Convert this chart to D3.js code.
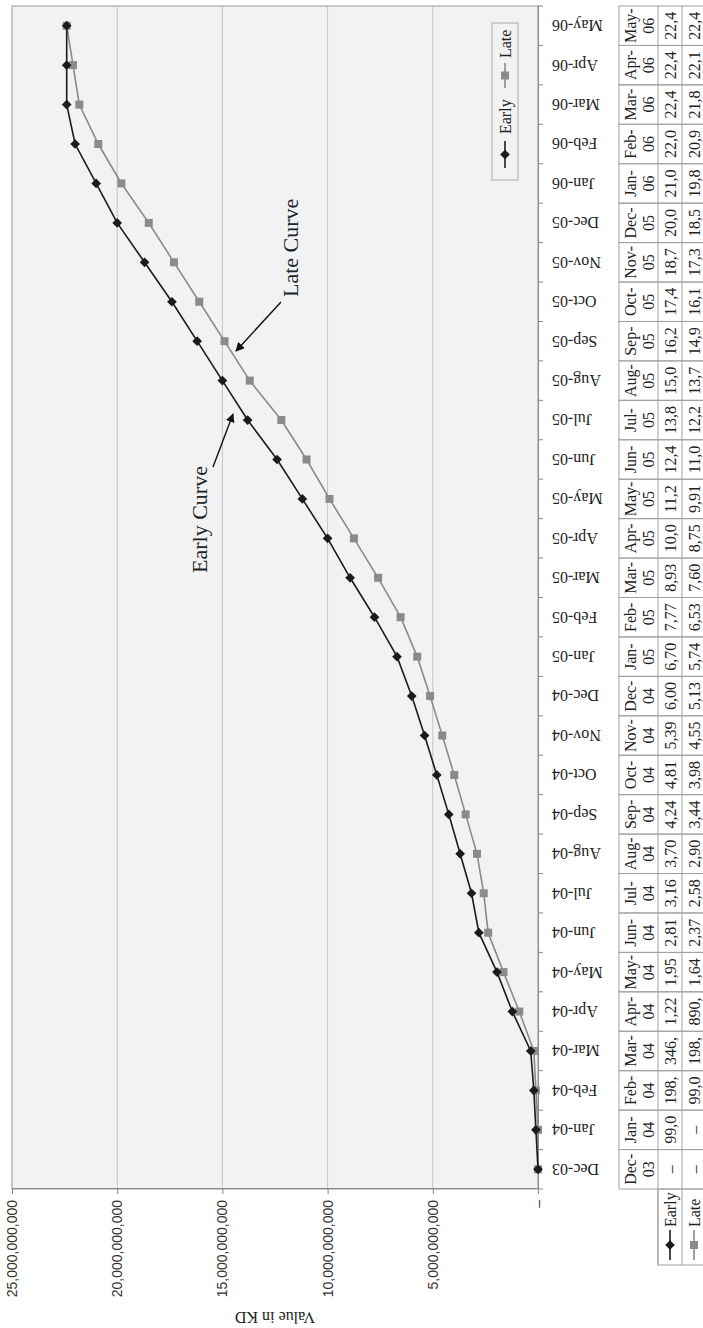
<!DOCTYPE html>
<html><head><meta charset="utf-8">
<script src="https://cdn.jsdelivr.net/npm/d3@7"></script>
<style>body{margin:0;background:#fff}svg{display:block}</style>
</head><body>
<svg id="c" width="703" height="1328"></svg>
<script>
const categories = ["Dec-03","Jan-04","Feb-04","Mar-04","Apr-04","May-04","Jun-04","Jul-04","Aug-04","Sep-04","Oct-04","Nov-04","Dec-04","Jan-05","Feb-05","Mar-05","Apr-05","May-05","Jun-05","Jul-05","Aug-05","Sep-05","Oct-05","Nov-05","Dec-05","Jan-06","Feb-06","Mar-06","Apr-06","May-06"];
const early = [0,99e6,198e6,346e6,1.22e9,1.95e9,2.81e9,3.16e9,3.70e9,4.24e9,4.81e9,5.39e9,6.00e9,6.70e9,7.77e9,8.93e9,10.0e9,11.2e9,12.4e9,13.8e9,15.0e9,16.2e9,17.4e9,18.7e9,20.0e9,21.0e9,22.0e9,22.4e9,22.4e9,22.4e9];
const late = [0,0,99e6,198e6,890e6,1.64e9,2.37e9,2.58e9,2.90e9,3.44e9,3.98e9,4.55e9,5.13e9,5.74e9,6.53e9,7.60e9,8.75e9,9.91e9,11.0e9,12.2e9,13.7e9,14.9e9,16.1e9,17.3e9,18.5e9,19.8e9,20.9e9,21.8e9,22.1e9,22.4e9];
const valueTicks = [0,5e9,10e9,15e9,20e9,25e9];
const seriesNames = ["Early","Late"];
const axisTitle = "Value in KD";
const annotations = ["Early Curve","Late Curve"];

const serif = "'Liberation Serif','Times New Roman',serif";
const sans = "'Liberation Sans',Arial,sans-serif";
const cEarly = "#1b1b1b", cLate = "#8a8a8a", cBorder = "#a0a0a0";

const svg = d3.select("#c");
const defs = svg.append("defs");
defs.append("marker").attr("id","arr").attr("viewBox","0 0 10 10").attr("refX",9).attr("refY",5)
  .attr("markerWidth",9).attr("markerHeight",9).attr("markerUnits","userSpaceOnUse").attr("orient","auto")
  .append("path").attr("d","M0,0 L10,5 L0,10 Z").attr("fill","#111");

// whole chart drawn in its original orientation, then turned a quarter counter-clockwise
const g = svg.append("g").attr("transform","translate(0,1328) rotate(-90)");

const pLeft = 139, pRight = 1322, pTop = 12, pBottom = 538;
const x = d3.scaleBand().domain(categories).range([pLeft, pRight]).padding(0);
const y = d3.scaleLinear().domain([0, 25e9]).range([pBottom, pTop]);

g.append("rect").attr("x",pLeft).attr("y",pTop).attr("width",pRight-pLeft).attr("height",pBottom-pTop)
  .attr("fill","#f1f2f4").attr("stroke","#9a9a9a").attr("stroke-width",1);

// grid
g.append("g").selectAll("line").data(valueTicks.filter(v=>v>0)).join("line")
  .attr("x1",pLeft).attr("x2",pRight).attr("y1",d=>y(d)).attr("y2",d=>y(d))
  .attr("stroke","#c4c4c4").attr("stroke-width",1);

// value axis
const fmtAxis = d => d === 0 ? "–" : d3.format(",")(d);
const ya = g.append("g").attr("transform",`translate(${pLeft},0)`)
  .call(d3.axisLeft(y).tickValues(valueTicks).tickFormat(fmtAxis).tickSize(5).tickPadding(6));
ya.select(".domain").attr("stroke","#888");
ya.selectAll(".tick line").attr("stroke","#888");
ya.selectAll("text").attr("font-family",sans).attr("font-size",14).attr("fill","#333");

g.append("text").attr("transform",`translate(16,${(pTop+pBottom)/2}) rotate(-90)`)
  .attr("text-anchor","middle").attr("font-family",serif).attr("font-size",16).attr("fill","#222")
  .text(axisTitle);

// category axis
const xa = g.append("g").attr("transform",`translate(0,${pBottom})`)
  .call(d3.axisBottom(x).tickSize(0).tickFormat(d=>d));
xa.select(".domain").attr("stroke","#888");
xa.selectAll(".tick text").attr("font-family",serif).attr("font-size",16).attr("fill","#222")
  .attr("text-anchor","end").attr("transform","translate(0,14) rotate(-90)").attr("x",0).attr("y",0).attr("dy","0.35em");
const bounds = categories.map(c=>x(c)).concat([pRight]);
g.append("g").selectAll("line").data(bounds).join("line")
  .attr("x1",d=>d).attr("x2",d=>d).attr("y1",pBottom).attr("y2",pBottom+5).attr("stroke","#888");

// series
const line = d3.line().x((d,i)=>x(categories[i])+x.bandwidth()/2).y(d=>y(d));
g.append("path").datum(late).attr("d",line).attr("fill","none").attr("stroke",cLate).attr("stroke-width",1.6);
g.append("path").datum(early).attr("d",line).attr("fill","none").attr("stroke",cEarly).attr("stroke-width",1.6);
const diamond = d3.symbol().type(d3.symbolDiamond2).size(60);
const square = d3.symbol().type(d3.symbolSquare).size(64);
g.append("g").selectAll("path").data(late).join("path")
  .attr("transform",(d,i)=>`translate(${x(categories[i])+x.bandwidth()/2},${y(d)})`)
  .attr("d",square).attr("fill",cLate);
g.append("g").selectAll("path").data(early).join("path")
  .attr("transform",(d,i)=>`translate(${x(categories[i])+x.bandwidth()/2},${y(d)})`)
  .attr("d",diamond).attr("fill",cEarly);

// annotations
g.append("text").attr("x",755).attr("y",207).attr("font-family",serif).attr("font-size",22).attr("fill","#222").text(annotations[0]);
g.append("line").attr("x1",861).attr("y1",213).attr("x2",914).attr("y2",233).attr("stroke","#111").attr("stroke-width",1.4).attr("marker-end","url(#arr)");
g.append("text").attr("x",1031).attr("y",298).attr("font-family",serif).attr("font-size",22).attr("fill","#222").text(annotations[1]);
g.append("line").attr("x1",1026).attr("y1",281).attr("x2",977).attr("y2",236).attr("stroke","#111").attr("stroke-width",1.4).attr("marker-end","url(#arr)");

// legend box
const lg = g.append("g");
lg.append("rect").attr("x",1148).attr("y",492).attr("width",157).attr("height",26).attr("fill","#f1f2f4").attr("stroke","#a8a8a8");
function key(gr, x0, x1, cy, i){
  gr.append("line").attr("x1",x0).attr("x2",x1).attr("y1",cy).attr("y2",cy).attr("stroke",i?cLate:cEarly).attr("stroke-width",1.6);
  gr.append("path").attr("transform",`translate(${(x0+x1)/2},${cy})`).attr("d",i?square:diamond).attr("fill",i?cLate:cEarly);
}
key(lg,1160,1187,505,0);
lg.append("text").attr("x",1194).attr("y",505).attr("dy","0.35em").attr("font-family",serif).attr("font-size",16).attr("fill","#222").text(seriesNames[0]);
key(lg,1240,1265,505,1);
lg.append("text").attr("x",1270).attr("y",505).attr("dy","0.35em").attr("font-family",serif).attr("font-size",16).attr("fill","#222").text(seriesNames[1]);

// data table (cells too narrow for the full numbers: only the leading characters show)
const tTop = 619, r1 = 658, r2 = 682, r3 = 706, labL = 63;
const tg = g.append("g");
const bw = x.bandwidth();
categories.forEach((c,i)=>{
  tg.append("rect").attr("x",x(c)).attr("y",tTop).attr("width",bw).attr("height",r3-tTop)
    .attr("fill","none").attr("stroke",cBorder);
  const parts = c.split("-");
  const t = tg.append("text").attr("text-anchor","middle").attr("font-family",serif).attr("font-size",16).attr("fill","#222");
  t.append("tspan").attr("x",x(c)+bw/2).attr("y",tTop+17).text(parts[0]+"-");
  t.append("tspan").attr("x",x(c)+bw/2).attr("y",tTop+35).text(parts[1]);
});
[r1,r2].forEach(yy=>tg.append("line").attr("x1",labL).attr("x2",pRight).attr("y1",yy).attr("y2",yy).attr("stroke",cBorder));
tg.append("rect").attr("x",labL).attr("y",r1).attr("width",pLeft-labL).attr("height",r3-r1).attr("fill","none").attr("stroke",cBorder);
const fmtCell = v => v === 0 ? "–" : d3.format(",.0f")(v).slice(0,4);
[early,late].forEach((arr,si)=>{
  const yc = si ? (r2+r3)/2 : (r1+r2)/2;
  arr.forEach((v,i)=>{
    const c = categories[i];
    tg.append("text").attr("font-family",serif).attr("font-size",16).attr("fill","#222")
      .attr("x",x(c)+bw/2).attr("text-anchor","middle")
      .attr("y",yc).attr("dy","0.35em").text(fmtCell(v));
  });
  const kg = tg.append("g");
  key(kg,68,98,yc,si);
  kg.append("text").attr("x",101).attr("y",yc).attr("dy","0.35em").attr("font-family",serif).attr("font-size",16).attr("fill","#222").text(seriesNames[si]);
});
</script>
</body></html>
